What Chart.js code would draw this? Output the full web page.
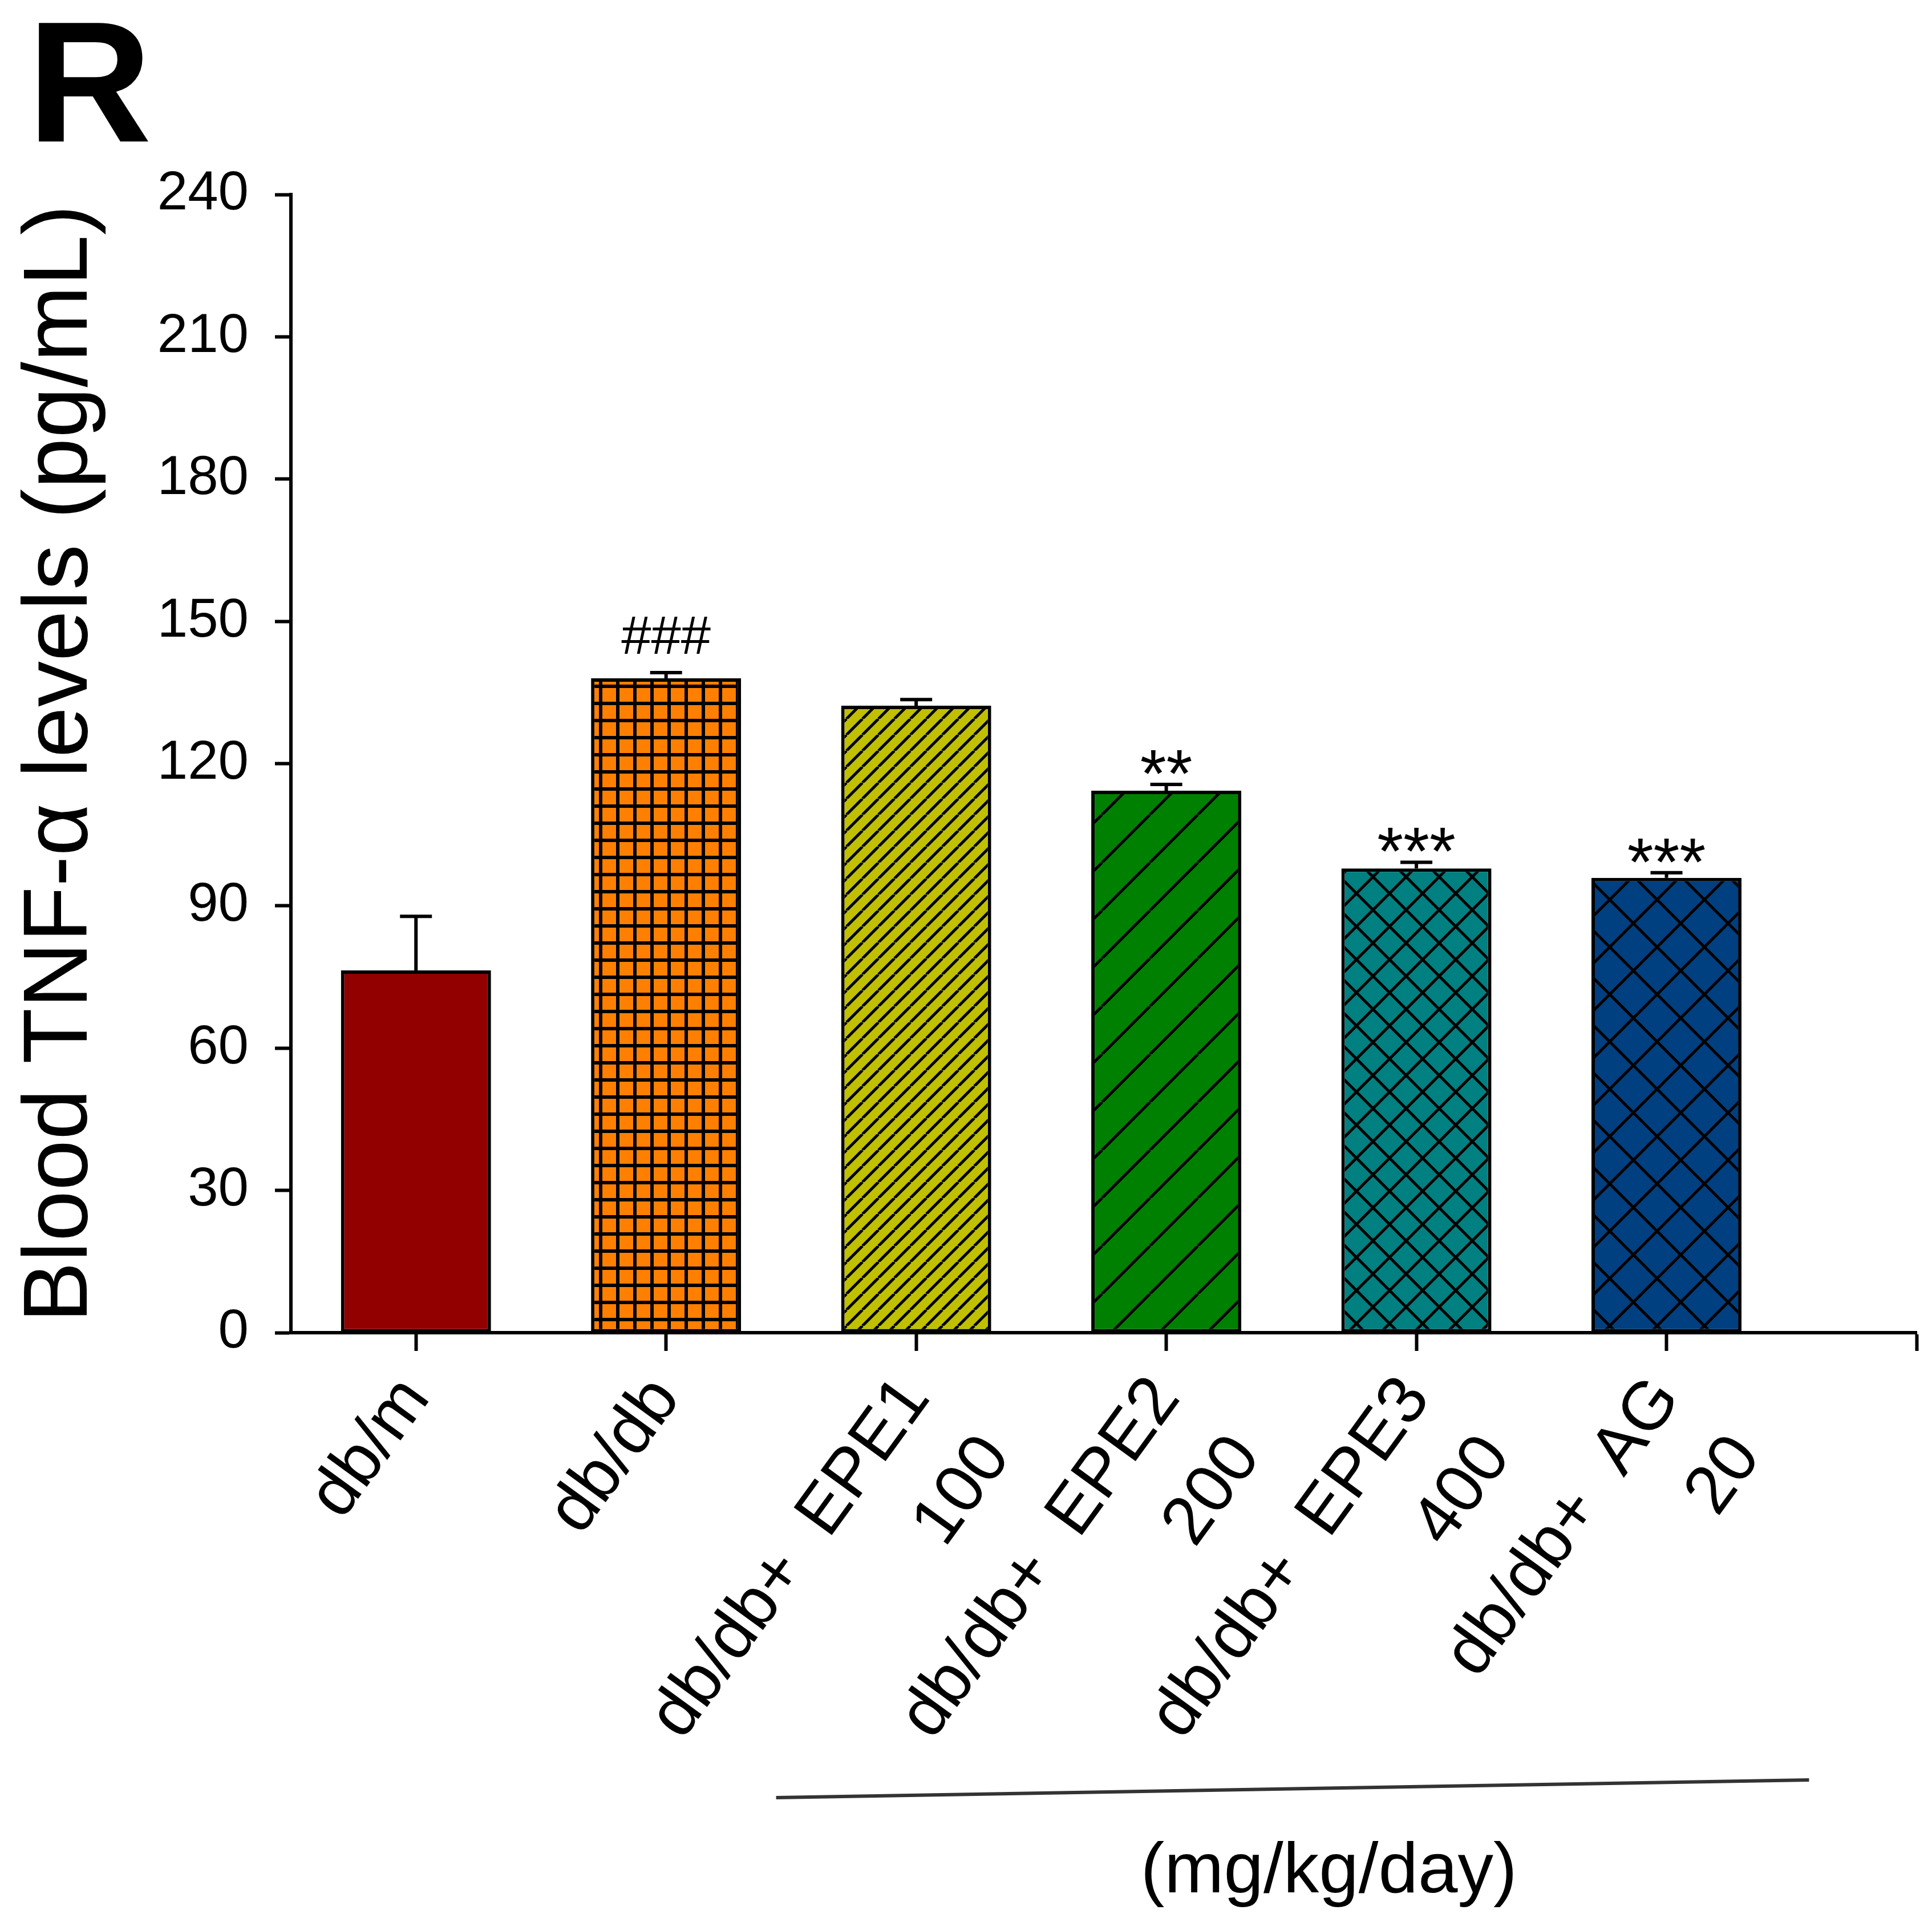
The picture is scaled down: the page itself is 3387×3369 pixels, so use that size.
<!DOCTYPE html>
<html>
<head>
<meta charset="utf-8">
<script src="https://cdn.jsdelivr.net/npm/chart.js@4.4.1/dist/chart.umd.min.js"></script>
<style>
  html, body { margin: 0; padding: 0; background: #fff; }
  canvas { display: block; }
</style>
</head>
<body>
<canvas id="tnfChart" width="3387" height="3369"></canvas>
<script>
// groups, in plotting order (second line = dose)
const categories = [
    'db/m',
    'db/db',
    ['db/db+  EPE1', '100'],
    ['db/db+  EPE2', '200'],
    ['db/db+  EPE3', '400'],
    ['db/db+  AG', '20']
];
const meanValues = [76.4, 138.0, 132.2, 114.3, 97.9, 95.9];
const semValues = [11.4, 1.2, 1.3, 1.3, 1.3, 1.1];
const significance = ['', '###', '', '**', '***', '***'];
const yTicks = [0, 30, 60, 90, 120, 150, 180, 210, 240];
const xPositions = [0, 1, 2, 3, 4, 5];

const FONT = '"Liberation Sans", Arial, sans-serif';

// fill patterns (SigmaPlot-like hatches)
function makePattern(color, size, draw) {
    const c = document.createElement('canvas');
    c.width = size;
    c.height = size;
    const g = c.getContext('2d');
    g.fillStyle = color;
    g.fillRect(0, 0, size, size);
    g.strokeStyle = '#000';
    g.fillStyle = '#000';
    draw(g, size);
    return g.createPattern(c, 'repeat');
}
function slash(g, p) {
    g.beginPath();
    for (let k = -1; k <= 1; k++) {
        g.moveTo(k * p, p);
        g.lineTo(k * p + p, 0);
    }
    g.stroke();
}
function backslash(g, p) {
    g.beginPath();
    for (let k = -1; k <= 1; k++) {
        g.moveTo(k * p, 0);
        g.lineTo(k * p + p, p);
    }
    g.stroke();
}

const fills = [
    '#920000',
    makePattern('#ff8000', 30, (g, p) => { g.fillRect(0, 0, p, 6); g.fillRect(0, 0, 6, p); }),
    makePattern('#c0c000', 28, (g, p) => { g.lineWidth = 5; slash(g, p); }),
    makePattern('#008000', 84, (g, p) => { g.lineWidth = 5; slash(g, p); }),
    makePattern('#008080', 58, (g, p) => { g.lineWidth = 5; slash(g, p); backslash(g, p); }),
    makePattern('#003f80', 83, (g, p) => { g.lineWidth = 5; slash(g, p); backslash(g, p); })
];

const extras = {
    id: 'extras',
    afterDatasetsDraw(chart) {
        const ctx = chart.ctx;
        const y = chart.scales.y;
        const bars = chart.getDatasetMeta(0).data;
        ctx.save();
        ctx.strokeStyle = '#000';
        ctx.fillStyle = '#000';
        ctx.lineWidth = 6;
        bars.forEach((bar, i) => {
            const top = y.getPixelForValue(meanValues[i] + semValues[i]);
            ctx.beginPath();
            ctx.moveTo(bar.x, bar.y);
            ctx.lineTo(bar.x, top);
            ctx.moveTo(bar.x - 28, top);
            ctx.lineTo(bar.x + 28, top);
            ctx.stroke();

            const mark = significance[i];
            if (!mark) return;
            const isHash = mark[0] === '#';
            ctx.font = (isHash ? 94 : 118) + 'px ' + FONT;
            ctx.textAlign = 'center';
            ctx.textBaseline = 'alphabetic';
            const m = ctx.measureText(mark);
            const cy = top - (isHash ? 65 : 39);
            ctx.fillText(mark, bar.x, cy + (m.actualBoundingBoxAscent - m.actualBoundingBoxDescent) / 2);
        });
        ctx.restore();
    },
    afterDraw(chart) {
        const ctx = chart.ctx;
        const x = chart.scales.x;
        const h = chart.height;
        ctx.save();
        ctx.fillStyle = '#000';
        ctx.font = 'bold 302px ' + FONT;
        ctx.textAlign = 'left';
        ctx.textBaseline = 'alphabetic';
        ctx.fillText('R', 48, 248);

        // dose bracket under the treated groups
        ctx.strokeStyle = '#333';
        ctx.lineWidth = 6;
        ctx.beginPath();
        ctx.moveTo(x.getPixelForValue(1.44), h - 218);
        ctx.lineTo(x.getPixelForValue(5.57), h - 249);
        ctx.stroke();

        ctx.font = '125px ' + FONT;
        ctx.textAlign = 'center';
        ctx.fillText('(mg/kg/day)', x.getPixelForValue(3.65), h - 52);
        ctx.restore();
    }
};

const ctx = document.getElementById('tnfChart').getContext('2d');
const tnfChart = new Chart(ctx, {
    type: 'bar',
    data: {
        datasets: [{
            data: xPositions.map((p, i) => ({ x: p, y: meanValues[i] })),
            backgroundColor: fills,
            borderColor: '#000',
            borderWidth: 6,
            borderSkipped: false,
            barPercentage: 0.6,
            categoryPercentage: 1.0
        }]
    },
    options: {
        responsive: false,
        animation: false,
        devicePixelRatio: 1,
        layout: { padding: { top: 341, right: 27, bottom: 0, left: 0 } },
        plugins: {
            legend: { display: false },
            tooltip: { enabled: false }
        },
        scales: {
            x: {
                type: 'linear',
                min: -0.5,
                max: 6,
                offset: false,
                afterBuildTicks(scale) {
                    scale.ticks = [0, 1, 2, 3, 4, 5, 6].map(v => ({ value: v }));
                },
                afterFit(scale) {
                    scale.height = 1033;
                    scale.paddingLeft = 0;
                    scale.paddingRight = 0;
                },
                grid: {
                    offset: false,
                    drawOnChartArea: false,
                    drawTicks: true,
                    tickLength: 32,
                    tickWidth: 6,
                    tickColor: '#000'
                },
                border: { display: true, color: '#000', width: 6 },
                ticks: {
                    autoSkip: false,
                    minRotation: 54,
                    maxRotation: 54,
                    padding: 12,
                    color: '#000',
                    font: { family: FONT, size: 120, lineHeight: 1.45 },
                    callback: v => categories[v] !== undefined ? categories[v] : ''
                }
            },
            y: {
                min: 0,
                max: 240,
                afterBuildTicks(scale) {
                    scale.ticks = yTicks.map(v => ({ value: v }));
                },
                afterFit(scale) { scale.width = 510; },
                grid: {
                    drawOnChartArea: false,
                    drawTicks: true,
                    tickLength: 28,
                    tickWidth: 6,
                    tickColor: '#000'
                },
                border: { display: true, color: '#000', width: 6 },
                ticks: {
                    padding: 46,
                    color: '#000',
                    font: { family: FONT, size: 96 }
                },
                title: {
                    display: true,
                    text: 'Blood TNF-α levels (pg/mL)',
                    color: '#000',
                    font: { family: FONT, size: 160, lineHeight: 1.2 },
                    padding: { top: 12, bottom: 0 }
                }
            }
        }
    },
    plugins: [extras]
});
</script>
</body>
</html>
